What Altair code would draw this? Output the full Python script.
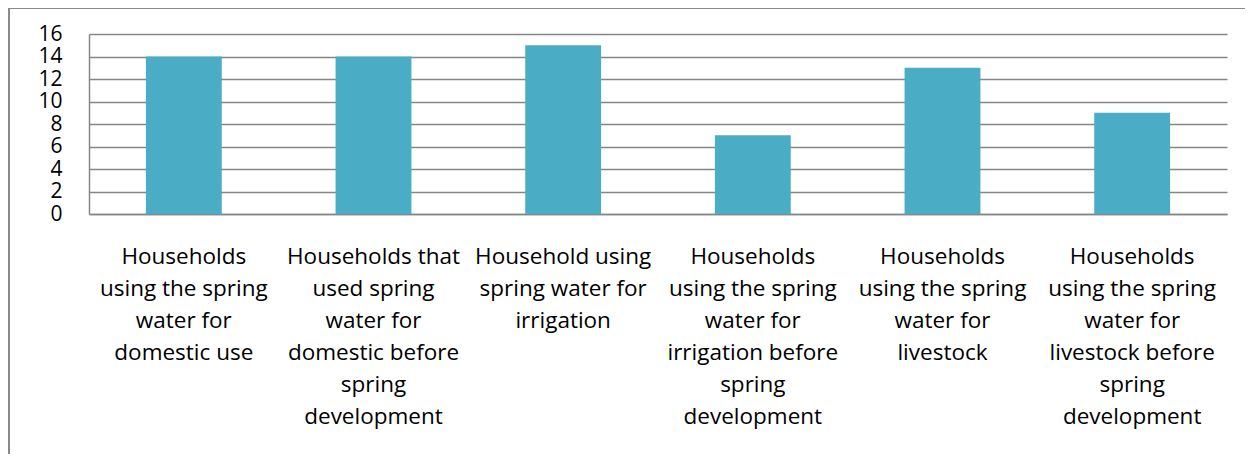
import altair as alt
import pandas as pd

categories = [
    "Households\nusing the spring\nwater  for\ndomestic use",
    "Households that\nused spring\nwater for\ndomestic before\nspring\ndevelopment",
    "Household using\nspring water for\nirrigation",
    "Households\nusing the spring\nwater  for\nirrigation before\nspring\ndevelopment",
    "Households\nusing the spring\nwater for\nlivestock",
    "Households\nusing the spring\nwater for\nlivestock before\nspring\ndevelopment",
]
values = [14, 14, 15, 7, 13, 9]
y_ticks = [0, 2, 4, 6, 8, 10, 12, 14, 16]

df = pd.DataFrame({"cat": categories, "val": values})

FONT = "Open Sans"
GRID = "#868686"

bars = alt.Chart(df).mark_bar(color="#4BACC6").encode(
    x=alt.X(
        "cat:N",
        sort=categories,
        scale=alt.Scale(paddingInner=0.6, paddingOuter=0.3),
        axis=alt.Axis(
            title=None,
            labelAngle=0,
            labelExpr="split(datum.label, '\\n')",
            labelFont=FONT,
            labelFontSize=22.5,
            labelLineHeight=32,
            labelColor="#000000",
            labelPadding=31,
            labelBaseline="top",
            ticks=False,
            domainColor=GRID,
            domainWidth=1.5,
            labelLimit=0,
        ),
    ),
    y=alt.Y(
        "val:Q",
        scale=alt.Scale(domain=[0, 16]),
        axis=alt.Axis(
            title=None,
            values=y_ticks,
            labelFont=FONT,
            labelFontSize=21,
            labelColor="#000000",
            labelPadding=27,
            ticks=False,
            domainColor=GRID,
            domainWidth=1.5,
            gridColor=GRID,
            gridWidth=1.5,
            labelBaseline="middle",
        ),
    ),
)

border_left = alt.Chart(df).mark_rule(color="#8a8a8a", strokeWidth=2).encode(
    x=alt.value(-80), y=alt.value(-26), y2=alt.value(440)
)
border_top = alt.Chart(df).mark_rule(color="#8a8a8a", strokeWidth=2).encode(
    x=alt.value(-80), x2=alt.value(1170), y=alt.value(-26)
)

chart = alt.layer(bars, border_left, border_top).properties(
    width=1138,
    height=180,
    autosize=alt.AutoSizeParams(type="none"),
    padding={"left": 81, "top": 26, "right": 18, "bottom": 240},
).configure_view(stroke=None)

chart.save("out.html", embed_options={"renderer": "svg", "actions": False})
